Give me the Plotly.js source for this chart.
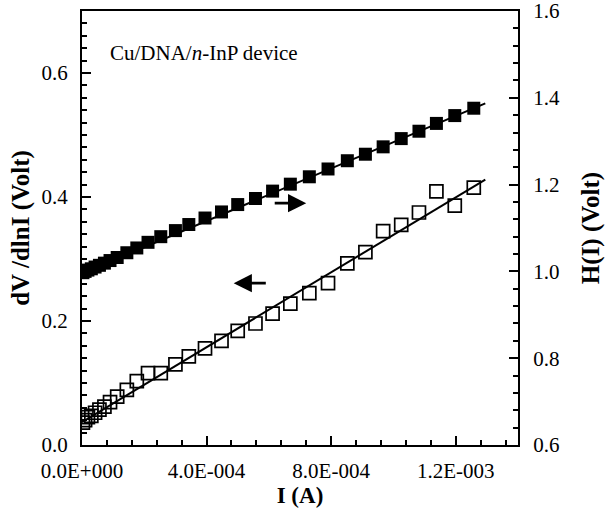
<!DOCTYPE html>
<html>
<head>
<meta charset="utf-8">
<script src="https://cdn.plot.ly/plotly-3.0.1.min.js"></script>
<style>html,body{margin:0;padding:0;background:#fff;}#chart{width:613px;height:514px;}</style>
</head>
<body>
<div id="chart"></div>
<script>
// Current I (A), shared by both series
var currentA = [3e-6, 1.0e-5, 1.9e-5, 3.0e-5, 4.2e-5, 5.6e-5, 7.2e-5, 9.0e-5, 1.13e-4, 1.44e-4,
  1.76e-4, 2.12e-4, 2.53e-4, 3.0e-4, 3.43e-4, 3.95e-4, 4.48e-4, 5.0e-4, 5.57e-4, 6.12e-4,
  6.69e-4, 7.3e-4, 7.9e-4, 8.52e-4, 9.1e-4, 9.67e-4, 1.025e-3, 1.082e-3, 1.138e-3, 1.197e-3, 1.258e-3];
// dV/dlnI (Volt), left axis, open squares
var dVdlnI = [0.036, 0.040, 0.045, 0.047, 0.052, 0.057, 0.062, 0.069, 0.078, 0.089,
  0.103, 0.116, 0.116, 0.130, 0.143, 0.156, 0.168, 0.184, 0.196, 0.212,
  0.228, 0.245, 0.261, 0.293, 0.311, 0.345, 0.355, 0.375, 0.409, 0.386, 0.415];
// H(I) (Volt), right axis, filled squares
var HofI = [0.997, 1.000, 1.003, 1.006, 1.010, 1.014, 1.019, 1.025, 1.032, 1.043,
  1.054, 1.067, 1.080, 1.094, 1.108, 1.123, 1.137, 1.154, 1.168, 1.185,
  1.201, 1.218, 1.236, 1.255, 1.270, 1.287, 1.306, 1.323, 1.341, 1.359, 1.376];
// Linear fits
var fitX = [0, 1.295e-3];
var fitDVdlnI = [0.037, 0.428];
var fitH = [0.995, 1.387];
// Tick labels
var xTickVals = [0, 4e-4, 8e-4, 1.2e-3];
var xTickText = ["0.0E+000", "4.0E-004", "8.0E-004", "1.2E-003"];
// Arrow positions (data coords, left axis): [tailX, headX, y]
var arrowRight = [6.14e-4, 7.2e-4, 0.390];
var arrowLeft = [5.95e-4, 4.87e-4, 0.261];

var FONT = "Liberation Serif, Times New Roman, serif";

var traces = [
  {x: fitX, y: fitDVdlnI, mode: "lines", line: {color: "#000", width: 2}, yaxis: "y", showlegend: false, hoverinfo: "skip"},
  {x: fitX, y: fitH, mode: "lines", line: {color: "#000", width: 2}, yaxis: "y2", showlegend: false, hoverinfo: "skip"},
  {x: currentA, y: dVdlnI, mode: "markers", yaxis: "y", showlegend: false,
   marker: {symbol: "square-open", size: 13, color: "#000", line: {width: 1.7, color: "#000"}}},
  {x: currentA, y: HofI, mode: "markers", yaxis: "y2", showlegend: false,
   marker: {symbol: "square", size: 13, color: "#000", line: {width: 0}}}
];

var layout = {
  width: 613, height: 514,
  margin: {l: 82, r: 95, t: 11, b: 69, pad: 0},
  paper_bgcolor: "#fff", plot_bgcolor: "#fff",
  font: {family: FONT, color: "#000", size: 21},
  showlegend: false,
  xaxis: {
    range: [0, 1.4e-3], tickmode: "array", tickvals: xTickVals, ticktext: xTickText,
    ticks: "inside", ticklen: 9, tickwidth: 2, tickcolor: "#000",
    minor: {tickmode: "linear", tick0: 0, dtick: 8e-5, ticks: "inside", ticklen: 5, tickwidth: 2, tickcolor: "#000", showgrid: false},
    showline: true, linewidth: 2, linecolor: "#000", mirror: true,
    showgrid: false, zeroline: false, ticklabelstandoff: 6, ticklabeloverflow: "allow",
    tickfont: {family: FONT, size: 21},
    title: {text: "<b>I (A)</b>", font: {family: FONT, size: 23}, standoff: 4}
  },
  yaxis: {
    range: [0, 0.7], tickmode: "linear", tick0: 0, dtick: 0.2, tickformat: ".1f",
    ticks: "inside", ticklen: 9, tickwidth: 2, tickcolor: "#000",
    minor: {tickmode: "linear", tick0: 0, dtick: 0.02, ticks: "inside", ticklen: 5, tickwidth: 2, tickcolor: "#000", showgrid: false},
    showline: true, linewidth: 2, linecolor: "#000", mirror: false,
    showgrid: false, zeroline: false, ticklabelstandoff: 8, ticklabeloverflow: "allow",
    tickfont: {family: FONT, size: 21},
    title: {text: "<b>dV /dlnI (Volt)</b>", font: {family: FONT, size: 25}, standoff: 5}
  },
  yaxis2: {
    overlaying: "y", side: "right",
    range: [0.6, 1.6], tickmode: "linear", tick0: 0.6, dtick: 0.2, tickformat: ".1f",
    ticks: "inside", ticklen: 9, tickwidth: 2, tickcolor: "#000",
    minor: {tickmode: "linear", tick0: 0.6, dtick: 0.04, ticks: "inside", ticklen: 5, tickwidth: 2, tickcolor: "#000", showgrid: false},
    showline: true, linewidth: 2, linecolor: "#000",
    showgrid: false, zeroline: false, ticklabelstandoff: 9, ticklabeloverflow: "allow",
    tickfont: {family: FONT, size: 21},
    title: {text: "<b>H(I) (Volt)</b>", font: {family: FONT, size: 25}, standoff: 23}
  },
  annotations: [
    {x: 8.3e-5, y: 0.632, xref: "x", yref: "y", xanchor: "left", yanchor: "middle",
     text: "Cu/DNA/<i>n</i>-InP device", showarrow: false, font: {family: FONT, size: 21, color: "#000"}},
    {x: arrowRight[1], y: arrowRight[2], ax: arrowRight[0], ay: arrowRight[2], xref: "x", yref: "y", axref: "x", ayref: "y",
     text: "", showarrow: true, arrowhead: 2, arrowsize: 1.3, arrowwidth: 2.8, arrowcolor: "#000"},
    {x: arrowLeft[1], y: arrowLeft[2], ax: arrowLeft[0], ay: arrowLeft[2], xref: "x", yref: "y", axref: "x", ayref: "y",
     text: "", showarrow: true, arrowhead: 2, arrowsize: 1.3, arrowwidth: 2.8, arrowcolor: "#000"}
  ]
};

Plotly.newPlot("chart", traces, layout, {staticPlot: true, displayModeBar: false});
</script>
</body>
</html>
